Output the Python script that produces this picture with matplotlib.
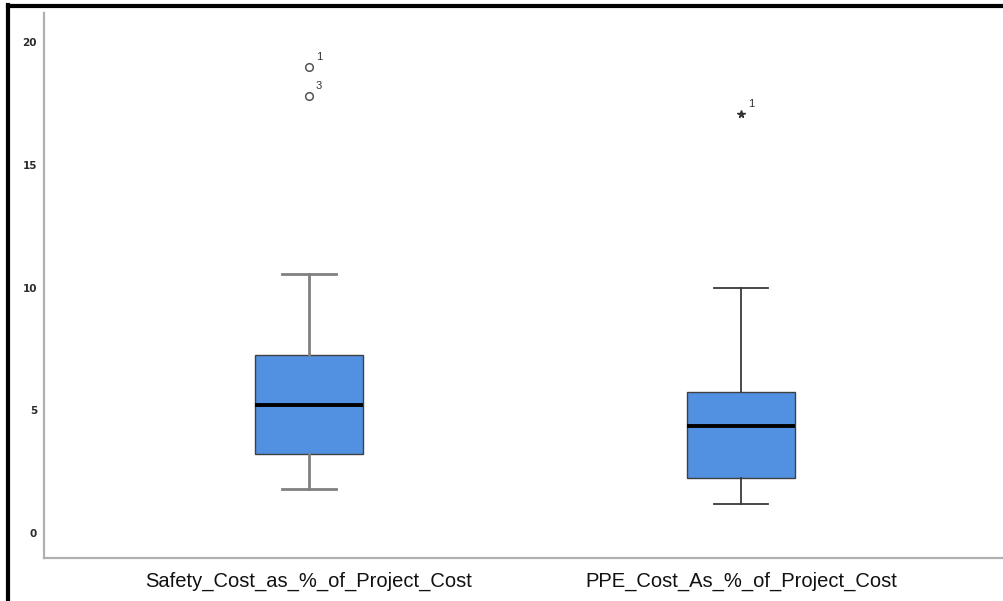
import matplotlib
matplotlib.use("Agg")
import matplotlib.pyplot as plt
from matplotlib.lines import Line2D

# box plot summary values
labels = ["Safety_Cost_as_%_of_Project_Cost", "PPE_Cost_As_%_of_Project_Cost"]
whislo = [1.81, 1.18]
q1 = [3.22, 2.24]
med = [5.22, 4.38]
q3 = [7.24, 5.76]
whishi = [10.54, 9.97]
fliers = [[19.0, 17.8], [17.1]]
flier_ids = [["1", "3"], ["1"]]
yticks = [0, 5, 10, 15, 20]

fig = plt.figure(figsize=(10.04, 6.01), dpi=100)
ax = fig.add_axes([44 / 1004, 43 / 601, 960 / 1004, 545 / 601])

box_color = "#5291e2"
whisk_styles = [dict(color="#808080", linewidth=2.0), dict(color="#3a3a3a", linewidth=1.3)]
flier_styles = [dict(marker="o", markerfacecolor="white", markeredgecolor="#555555",
                     markersize=5.5, markeredgewidth=1.1),
                dict(marker="*", markerfacecolor="#333333", markeredgecolor="#333333",
                     markersize=5.5)]

for i in range(2):
    stats = [dict(label=labels[i], whislo=whislo[i], q1=q1[i], med=med[i],
                  q3=q3[i], whishi=whishi[i], fliers=fliers[i])]
    ax.bxp(stats, positions=[i + 1], widths=0.25, capwidths=0.125,
           patch_artist=True,
           boxprops=dict(facecolor=box_color, edgecolor="#404040", linewidth=1.0),
           medianprops=dict(color="black", linewidth=2.8),
           whiskerprops=whisk_styles[i], capprops=whisk_styles[i],
           flierprops=flier_styles[i])
    for v, t in zip(fliers[i], flier_ids[i]):
        ax.annotate(t, (i + 1, v), xytext=(5, 5), textcoords="offset points",
                    fontsize=8, color="#333333", family="Liberation Sans")

ax.set_xlim(0.387, 2.609)
ax.set_ylim(-1.02, 21.2)
ax.set_yticks(yticks)
ax.set_yticklabels([str(v) for v in yticks], fontsize=7.5, fontweight="bold", color="#2a2a2a")
ax.set_xticks([1, 2])
ax.set_xticklabels(labels, fontsize=14.5, color="#111111",
                   family=["Liberation Sans", "DejaVu Sans"])
ax.tick_params(axis="both", length=0)
ax.tick_params(axis="y", pad=5)
ax.tick_params(axis="x", pad=10)

for s in ["top", "right"]:
    ax.spines[s].set_visible(False)
for s in ["left", "bottom"]:
    ax.spines[s].set_color("#b0b0b0")
    ax.spines[s].set_linewidth(1.6)

# black frame around the picture (left and top edges)
fig.add_artist(Line2D([8 / 1004, 8 / 1004], [0, 1 - 5 / 601], color="black", linewidth=3,
                      transform=fig.transFigure))
fig.add_artist(Line2D([8 / 1004, 1], [1 - 6 / 601, 1 - 6 / 601], color="black", linewidth=3,
                      transform=fig.transFigure))

fig.savefig("out.png", dpi=100)
plt.close()
